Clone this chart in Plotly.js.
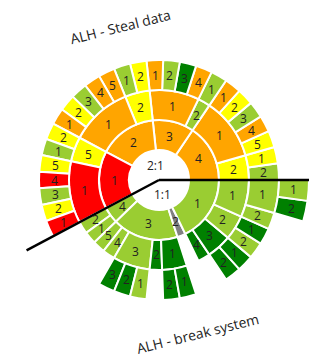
<!DOCTYPE html>
<html><head><meta charset="utf-8">
<script src="https://cdn.plot.ly/plotly-3.0.1.min.js"></script>
<style>html,body{margin:0;padding:0;background:#fff}#chart{width:320px;height:358px}</style>
</head><body><div id="chart"></div>
<script>
// Hierarchy, listed counter-clockwise from 3 o'clock
const nodeIds = [
 'T','B',
 'T/4','T/3','T/2','T/1',
 'T/4/2','T/4/1','T/3/2','T/3/1','T/2/2','T/2/1','T/1/5','T/1/1',
 'T/4/2/2','T/4/2/1',
 'T/4/1/5','T/4/1/4','T/4/1/3','T/4/1/2','T/4/1/1',
 'T/3/2/1',
 'T/3/1/4','T/3/1/3','T/3/1/2','T/3/1/1',
 'T/2/2/2','T/2/2/1',
 'T/2/1/5','T/2/1/4','T/2/1/3','T/2/1/2','T/2/1/1',
 'T/1/5/2','T/1/5/1',
 'T/1/1/5','T/1/1/4','T/1/1/3','T/1/1/2','T/1/1/1',
 'B/4','B/3','B/2','B/1',
 'B/4/2','B/4/1','B/3/5','B/3/4','B/3/3','B/3/2','B/3/1','B/1/4','B/1/3','B/1/2','B/1/1',
 'B/3/3/3','B/3/3/2','B/3/3/1','B/3/1/2','B/3/1/1','B/1/3/2','B/1/3/1','B/1/2/2','B/1/2/1','B/1/1/2','B/1/1/1',
 'B/1/1/1/2','B/1/1/1/1'
];
const nodeValues = [
 26,19,
 7,5,7,7,
 2,5,1,4,2,5,2,5,
 1,1,
 1,1,1,1,1,
 1,
 1,1,1,1,
 1,1,
 1,1,1,1,1,
 1,1,
 1,1,1,1,1,
 2,8,1,8,
 1,1,1,1,3,1,2,1,2,2,3,
 1,1,1,1,1,1,1,1,1,1,2,
 1,1
];
// colour keys: R red, O orange, Y yellow, G light green, D dark green, S grey, W white
const nodeColorKeys = [
 'W','W',
 'O','O','O','R',
 'Y','O','G','O','Y','O','Y','R',
 'G','Y',
 'Y','O','G','Y','O',
 'G',
 'O','D','G','O',
 'Y','G',
 'O','O','G','Y','O',
 'Y','G',
 'Y','R','G','Y','R',
 'G','G','S','G',
 'G','G','G','G','G','D','D','D','D','G','G',
 'D','D','G','D','D','D','D','G','D','G','G',
 'D','G'
];
const rootLabels = {T: '2:1', B: '1:1'};
const groupTitles = {T: 'ALH - Steal data', B: 'ALH - break system'};

const palette = {R:'#ff0000', O:'#ffa500', Y:'#ffff00', G:'#9acd32', D:'#008000', S:'#808080', W:'#ffffff'};
const labels = nodeIds.map(id => rootLabels[id] || id.split('/').pop());
const parents = nodeIds.map(id => id.indexOf('/') < 0 ? '' : id.substring(0, id.lastIndexOf('/')));
const colors = nodeColorKeys.map(k => palette[k]);

const W = 320, H = 358, M = {l: 9, r: 11, t: 30, b: 28};
const plotSize = W - M.l - M.r;          // square domain: 300 px
const levels = 5;                          // centre + 4 rings
const ring = plotSize / 2 / levels;        // ring thickness in px

const trace = {
  type: 'sunburst',
  ids: nodeIds, labels: labels, parents: parents, values: nodeValues,
  branchvalues: 'total', sort: false,
  marker: {colors: colors, line: {color: '#ffffff', width: 2}},
  leaf: {opacity: 1},
  textinfo: 'none',
  hoverinfo: 'label+value',
  domain: {x: [0, 1], y: [0, 1]}
};

// angular extent of each node from the values (counter-clockwise from 3 o'clock)
const total = nodeIds.reduce((s, id, i) => s + (parents[i] === '' ? nodeValues[i] : 0), 0);
const start = {}, cursor = {'': 0};
nodeIds.forEach((id, i) => {
  const p = parents[i];
  if (!(p in cursor)) cursor[p] = start[p];
  start[id] = cursor[p];
  cursor[p] += nodeValues[i];
});

const toPaper = (rpx, a) => ({x: 0.5 + rpx * Math.cos(a) / plotSize, y: 0.5 + rpx * Math.sin(a) / plotSize});
const shapes = [], annotations = [];
const labelFont = {family: 'Open Sans, sans-serif', size: 12, color: '#222222'};

nodeIds.forEach((id, i) => {
  const depth = id.split('/').length - 1;
  const a0 = start[id] / total * 2 * Math.PI;
  const a1 = (start[id] + nodeValues[i]) / total * 2 * Math.PI;
  const am = (a0 + a1) / 2;
  const rMid = ring * (depth + 0.5);
  const pos = toPaper(rMid, am);
  annotations.push({xref: 'paper', yref: 'paper', x: pos.x, y: pos.y, xanchor: 'center', yanchor: 'middle',
    showarrow: false, text: labels[i], font: labelFont});
  if (depth === 0) {
    const e = toPaper(ring * levels, a0);
    shapes.push({type: 'line', xref: 'paper', yref: 'paper', x0: 0.5, y0: 0.5, x1: e.x, y1: e.y,
      line: {color: '#000000', width: 2.5}, layer: 'above'});
    const deg = am * 180 / Math.PI;
    let t = (((deg - 90) % 180) + 180) % 180; if (t > 90) t -= 180;
    const tp = toPaper(ring * levels + 8, am);
    annotations.push({xref: 'paper', yref: 'paper', x: tp.x, y: tp.y, xanchor: 'center', yanchor: 'middle',
      showarrow: false, textangle: -t, text: groupTitles[id],
      font: {family: 'Open Sans, sans-serif', size: 14, color: '#222222'}});
  }
});

const layout = {
  width: W, height: H, margin: M,
  paper_bgcolor: '#ffffff', showlegend: false,
  shapes: shapes, annotations: annotations
};
Plotly.newPlot('chart', [trace], layout, {displayModeBar: false, staticPlot: true});
</script></body></html>
